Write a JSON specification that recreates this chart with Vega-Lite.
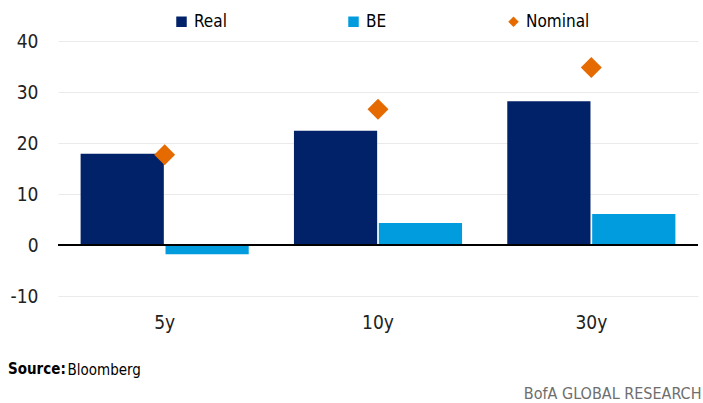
{
  "$schema": "https://vega.github.io/schema/vega-lite/v6.json",
  "description": "Real, breakeven and nominal values by tenor, grouped bars with nominal markers.",
  "width": 640,
  "height": 255,
  "autosize": {"type": "none"},
  "padding": {"left": 58, "top": 41, "right": 5, "bottom": 107},
  "config": {
    "font": "'DejaVu Sans Condensed', 'Open Sans', sans-serif",
    "view": {"stroke": null},
    "axis": {"domain": false, "ticks": false, "labelColor": "#222222", "labelFontSize": 19}
  },
  "title": {
    "text": "Source:",
    "orient": "bottom",
    "anchor": "start",
    "frame": "group",
    "fontSize": 15,
    "fontWeight": "bold",
    "color": "#000000",
    "dx": -50,
    "offset": 0,
    "dy": -39
  },
  "data": {
    "values": [
      {"tenor": "5y", "series": "Real", "value": 17.9},
      {"tenor": "5y", "series": "BE", "value": -1.8},
      {"tenor": "5y", "series": "Nominal", "value": 17.7},
      {"tenor": "10y", "series": "Real", "value": 22.4},
      {"tenor": "10y", "series": "BE", "value": 4.3},
      {"tenor": "10y", "series": "Nominal", "value": 26.6},
      {"tenor": "30y", "series": "Real", "value": 28.2},
      {"tenor": "30y", "series": "BE", "value": 6.1},
      {"tenor": "30y", "series": "Nominal", "value": 34.8}
    ]
  },
  "layer": [
    {
      "transform": [{"filter": "datum.series !== 'Nominal'"}],
      "mark": {"type": "bar"},
      "encoding": {
        "x": {
          "field": "tenor",
          "type": "nominal",
          "sort": ["5y", "10y", "30y"],
          "scale": {"paddingInner": 0.212, "paddingOuter": 0.106},
          "axis": {
            "labelAngle": 0,
            "labelPadding": 17,
            "title": "Bloomberg",
            "titleX": 9,
            "titleY": 78,
            "titleAlign": "left",
            "titleBaseline": "alphabetic",
            "titleFontSize": 15,
            "titleFontWeight": "normal",
            "titleColor": "#000000"
          }
        },
        "xOffset": {
          "field": "series",
          "type": "nominal",
          "sort": ["Real", "BE"],
          "scale": {"paddingInner": 0.02}
        },
        "y": {
          "field": "value",
          "type": "quantitative",
          "scale": {"domain": [-10, 40], "nice": false},
          "axis": {
            "values": [-10, 0, 10, 20, 30, 40],
            "labelExpr": "'' + datum.value",
            "grid": true,
            "gridColor": "#eaeaea",
            "labelPadding": 20,
            "title": "BofA GLOBAL RESEARCH",
            "titleAngle": 0,
            "titleX": 643,
            "titleY": 357,
            "titleAlign": "right",
            "titleBaseline": "alphabetic",
            "titleFontSize": 16,
            "titleFontWeight": "normal",
            "titleColor": "#6e6e6e"
          }
        },
        "color": {
          "field": "series",
          "type": "nominal",
          "scale": {"domain": ["Real", "BE", "Nominal"], "range": ["#012169", "#009cde", "#e56a00"]},
          "legend": {
            "title": null,
            "orient": "none",
            "legendX": 115,
            "legendY": -28,
            "direction": "horizontal",
            "columnPadding": 118,
            "symbolSize": 110,
            "symbolStrokeWidth": 0,
            "labelFontSize": 17,
            "labelColor": "#000000",
            "labelOffset": 4,
            "padding": 0,
            "encode": {
              "symbols": {
                "update": {
                  "shape": {"signal": "datum.value === 'Nominal' ? 'diamond' : 'square'"}
                }
              }
            }
          }
        }
      }
    },
    {
      "mark": {"type": "rule", "color": "#000000", "strokeWidth": 2},
      "encoding": {"y": {"datum": 0}}
    },
    {
      "transform": [{"filter": "datum.series === 'Nominal'"}],
      "mark": {"type": "point", "shape": "diamond", "filled": true, "size": 440, "opacity": 1},
      "encoding": {
        "x": {"field": "tenor", "type": "nominal", "sort": ["5y", "10y", "30y"]},
        "y": {"field": "value", "type": "quantitative"},
        "color": {"field": "series", "type": "nominal"}
      }
    }
  ]
}
